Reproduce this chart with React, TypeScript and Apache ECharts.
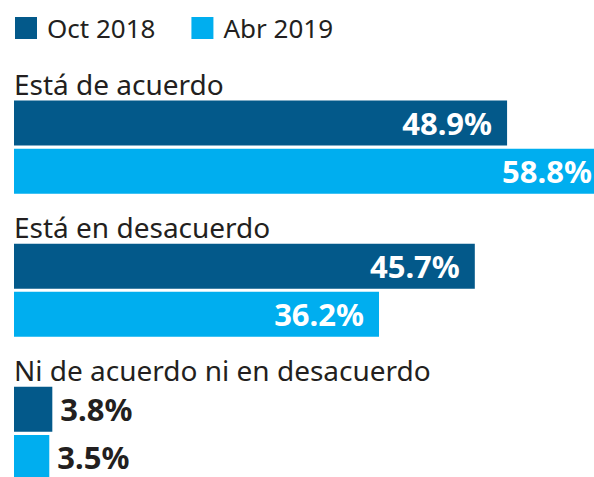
import React, { useEffect, useRef } from "react";
import * as echarts from "echarts";

const categories = ["Está de acuerdo", "Está en desacuerdo", "Ni de acuerdo ni en desacuerdo"];
const seriesNames = ["Oct 2018", "Abr 2019"];
const oct2018 = [48.9, 45.7, 3.8];
const abr2019 = [58.8, 36.2, 3.5];

const DARK = "#03598a";
const LIGHT = "#00aeef";
const TEXT = "#231f20";
const FONT = "'Noto Sans', sans-serif";

function buildData(values: number[]) {
  return values.map((v) => ({
    value: v,
    label:
      v < 10
        ? { show: true, position: "right", distance: 8, color: TEXT }
        : { show: true, position: "insideRight", distance: 15, color: "#ffffff" },
  }));
}

export default function App() {
  const ref = useRef<HTMLDivElement>(null);
  useEffect(() => {
    document.body.style.margin = "0";
    const chart = echarts.init(ref.current!, null, { renderer: "svg" });
    const labelBase = {
      fontFamily: FONT,
      fontWeight: "bold",
      fontSize: 31,
      formatter: (p: any) => p.value.toFixed(1) + "%",
    };
    chart.setOption({
      animation: false,
      legend: {
        left: 15,
        top: 15,
        padding: 0,
        icon: "rect",
        itemWidth: 22,
        itemHeight: 22,
        itemGap: 36,
        textStyle: { fontFamily: FONT, fontSize: 26, color: TEXT, padding: [0, 0, 0, 5] },
        data: seriesNames,
      },
      grid: { left: 14, top: 75.5, width: 605, height: 429.5, outerBoundsMode: "none", containLabel: false },
      xAxis: { type: "value", min: 0, max: 60, show: false },
      yAxis: {
        type: "category",
        inverse: true,
        data: categories,
        axisLine: { show: false },
        axisTick: { show: false },
        splitLine: { show: false },
        axisLabel: {
          inside: true,
          align: "left",
          verticalAlign: "bottom",
          margin: 0,
          padding: [0, 0, 48, 0],
          fontFamily: FONT,
          fontSize: 28,
          lineHeight: 30,
          color: TEXT,
        },
      },
      series: [
        {
          name: seriesNames[0],
          type: "bar",
          barWidth: 45,
          barGap: "7%",
          itemStyle: { color: DARK },
          label: { ...labelBase },
          data: buildData(oct2018),
        },
        {
          name: seriesNames[1],
          type: "bar",
          barWidth: 45,
          barGap: "7%",
          itemStyle: { color: LIGHT },
          label: { ...labelBase },
          data: buildData(abr2019),
        },
      ],
    });
    return () => chart.dispose();
  }, []);
  return <div ref={ref} style={{ width: 594, height: 477 }} />;
}
